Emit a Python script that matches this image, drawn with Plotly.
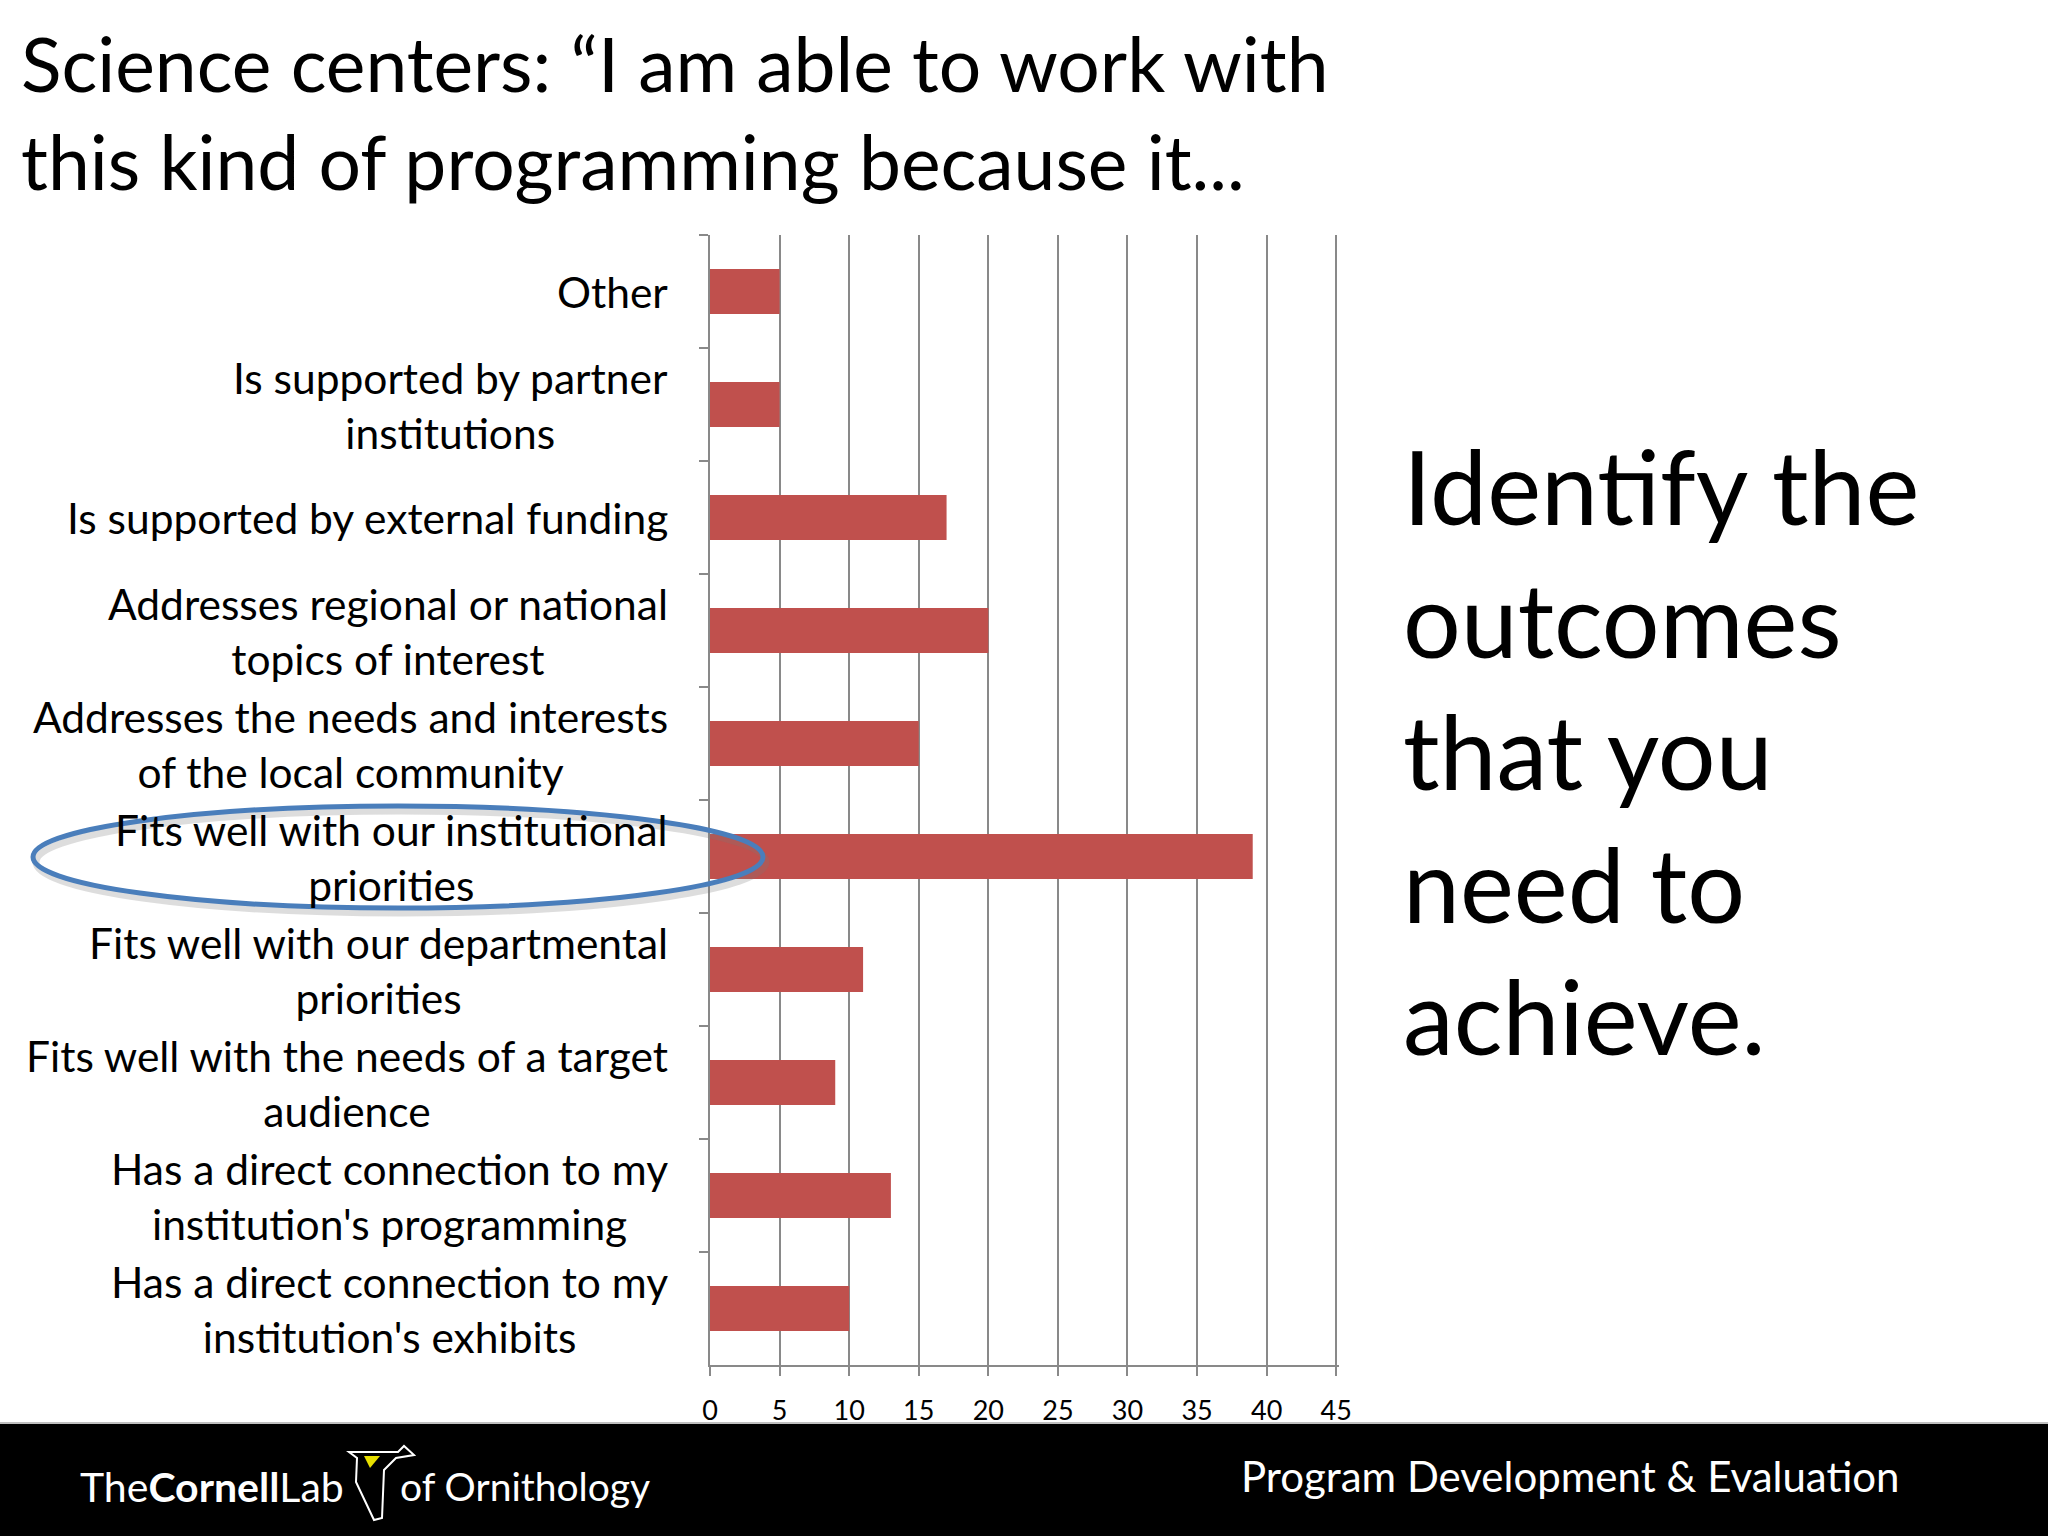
import plotly.graph_objects as go

# ---------------- data ----------------
categories = [
    "Other",
    "Is supported by partner<br>institutions",
    "Is supported by external funding",
    "Addresses regional or national<br>topics of interest",
    "Addresses the needs and interests<br>of the local community",
    "Fits well with our institutional<br>priorities",
    "Fits well with our departmental<br>priorities",
    "Fits well with the needs of a target<br>audience",
    "Has a direct connection to my<br>institution's programming",
    "Has a direct connection to my<br>institution's exhibits",
]
counts = [5, 5, 17, 20, 15, 39, 11, 9, 13, 10]
x_ticks = [0, 5, 10, 15, 20, 25, 30, 35, 40, 45]

title_text = "Science centers: \u201cI am able to work with<br>this kind of programming because it..."
side_text = "Identify the<br>outcomes<br>that you<br>need to<br>achieve."
footer_text = "Program Development & Evaluation"

# ---------------- layout geometry (pixels) ----------------
W, H = 2048, 1536
XMAX = 45.2  # a hair beyond 45 so the last gridline is drawn
PL, PT, PB = 710, 235, 1365
PR = round(PL + 626 * XMAX / 45)  # keeps 45 at x=1336


def px(x):
    return (x - PL) / (PR - PL)


def py(y):
    return (PB - y) / (PB - PT)


FONT = "Lato, 'Open Sans', sans-serif"
GRID = "#898989"
BAR = "#C0504D"

fig = go.Figure()
fig.add_trace(go.Bar(
    x=counts, y=categories, orientation="h",
    marker=dict(color=BAR, line=dict(width=0)),
    width=0.4, hoverinfo="x+y",
))

annotations = []
# category labels (centered multi-line, right edge near axis)
for c in categories:
    annotations.append(dict(
        x=px(670), xref="paper", y=c, yref="y",
        xanchor="right", yanchor="middle", align="center",
        text=c, showarrow=False,
        font=dict(family=FONT, size=42.5, color="#000000"),
    ))

annotations.append(dict(
    x=px(19), y=py(112), xref="paper", yref="paper",
    xanchor="left", yanchor="middle", align="left",
    text=title_text, showarrow=False,
    font=dict(family=FONT, size=75, color="#000000"),
))
annotations.append(dict(
    x=px(1401), y=py(750), xref="paper", yref="paper",
    xanchor="left", yanchor="middle", align="left",
    text=side_text, showarrow=False,
    font=dict(family=FONT, size=102, color="#000000"),
))
annotations.append(dict(
    x=px(1902), y=py(1476), xref="paper", yref="paper",
    xanchor="right", yanchor="middle", align="right",
    text=footer_text, showarrow=False,
    font=dict(family=FONT, size=42, color="#FFFFFF"),
))
annotations.append(dict(
    x=px(346), y=py(1486), xref="paper", yref="paper",
    xanchor="right", yanchor="middle",
    text="The<b>Cornell</b>Lab", showarrow=False,
    font=dict(family=FONT, size=41, color="#FFFFFF"),
))
annotations.append(dict(
    x=px(398), y=py(1486), xref="paper", yref="paper",
    xanchor="left", yanchor="middle",
    text="of Ornithology", showarrow=False,
    font=dict(family=FONT, size=39, color="#FFFFFF"),
))

shapes = [
    # footer band
    dict(type="rect", xref="paper", yref="paper", layer="below",
         x0=px(-5), x1=px(W + 5), y0=py(1424), y1=py(H + 5),
         fillcolor="#000000", line=dict(width=0)),
    dict(type="line", xref="paper", yref="paper",
         x0=px(0), x1=px(W), y0=py(1423), y1=py(1423),
         line=dict(color="#BFBFBF", width=2)),
    # ellipse shadow and ellipse highlight
    dict(type="circle", xref="paper", yref="paper",
         x0=px(36), x1=px(766), y0=py(811), y1=py(913),
         line=dict(color="rgba(120,120,120,0.25)", width=7)),
    dict(type="circle", xref="paper", yref="paper",
         x0=px(33), x1=px(763), y0=py(806), y1=py(908),
         line=dict(color="#4A7EBB", width=5)),
    # simple bird emblem in logo
    dict(type="path", xref="paper", yref="paper",
         path=(f"M {px(349)},{py(1452)} L {px(398)},{py(1452)} L {px(404)},{py(1446)} "
               f"L {px(414)},{py(1455)} L {px(396)},{py(1458)} "
               f"L {px(384)},{py(1470)} L {px(382)},{py(1518)} L {px(374)},{py(1520)} "
               f"L {px(356)},{py(1482)} L {px(357)},{py(1458)} Z"),
         line=dict(color="#FFFFFF", width=2), fillcolor="rgba(0,0,0,0)"),
    dict(type="path", xref="paper", yref="paper",
         path=f"M {px(364)},{py(1456)} L {px(380)},{py(1456)} L {px(370)},{py(1468)} Z",
         line=dict(width=0), fillcolor="#E8E000"),
]

fig.update_layout(
    width=W, height=H,
    margin=dict(l=PL, r=W - PR, t=PT, b=H - PB, pad=0),
    paper_bgcolor="#FFFFFF", plot_bgcolor="#FFFFFF",
    showlegend=False,
    bargap=0.6,
    annotations=annotations,
    shapes=shapes,
    xaxis=dict(
        range=[0, XMAX], tickmode="array", tickvals=x_ticks,
        ticktext=[str(v) for v in x_ticks],
        showgrid=True, gridcolor=GRID, gridwidth=2,
        showline=True, linecolor=GRID, linewidth=2,
        ticks="outside", ticklen=9, tickcolor=GRID, tickwidth=2,
        zeroline=False, ticklabelstandoff=12,
        tickfont=dict(family=FONT, size=27, color="#000000"),
        fixedrange=True,
    ),
    yaxis=dict(
        categoryorder="array", categoryarray=categories,
        autorange="reversed",
        showgrid=False, zeroline=False,
        showline=True, linecolor=GRID, linewidth=2,
        ticks="outside", tickson="boundaries", ticklen=9,
        tickcolor=GRID, tickwidth=2,
        showticklabels=False, fixedrange=True,
    ),
)

fig.write_html(
    "out.html",
    config={"displayModeBar": False},
    post_script="document.body.style.margin='0px';document.body.style.overflow='hidden';",
)
